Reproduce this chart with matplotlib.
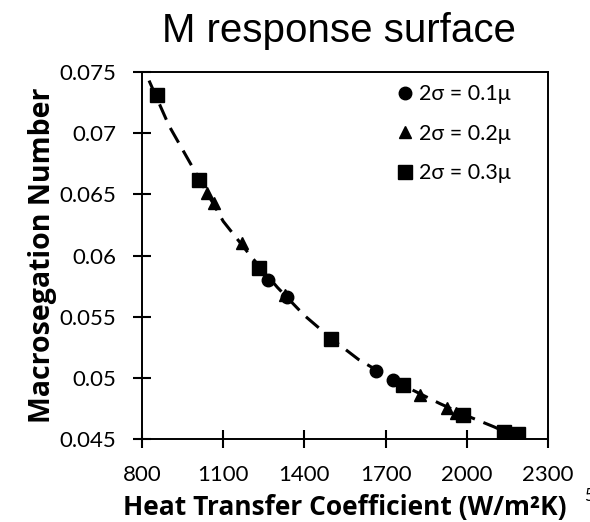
import matplotlib
matplotlib.use("Agg")
import matplotlib.pyplot as plt

# data
sq_x = [855, 1011, 1232, 1498, 1765, 1986, 2138, 2189]
sq_y = [0.0731, 0.0662, 0.0590, 0.0532, 0.0494, 0.0470, 0.0456, 0.0454]

ci_x = [1266, 1336, 1665, 1728]
ci_y = [0.0580, 0.0566, 0.0506, 0.0498]

tri_x = [1040, 1066, 1170, 1330, 1827, 1927, 1960]
tri_y = [0.0651, 0.0643, 0.0610, 0.0568, 0.0486, 0.0475, 0.0471]

# dashed trend line, read point by point
fit_x = [826, 900, 1000, 1100, 1200, 1300, 1400, 1500, 1600, 1700, 1800, 1900, 2000, 2100, 2140]
fit_y = [0.0743, 0.0706, 0.0667, 0.0628, 0.0600, 0.0574, 0.0551, 0.0532, 0.0515,
         0.0502, 0.0490, 0.0479, 0.0469, 0.0460, 0.0456]

x_ticks = [800, 1100, 1400, 1700, 2000, 2300]
y_ticks = [0.045, 0.05, 0.055, 0.06, 0.065, 0.07, 0.075]
y_labels = ["0.045", "0.05", "0.055", "0.06", "0.065", "0.07", "0.075"]

tick_font = "Lato"

fig = plt.figure(figsize=(5.9, 5.22), dpi=100)
ax = fig.add_axes([0.2407, 0.159, 0.6881, 0.703])

ax.plot(fit_x, fit_y, color="black", lw=2.2, ls=(0, (5.5, 3)), zorder=2)
ax.plot(ci_x, ci_y, "o", color="black", ms=9, ls="none", label="2σ = 0.1μ", zorder=3)
ax.plot(tri_x, tri_y, "^", color="black", ms=9, ls="none", label="2σ = 0.2μ", zorder=3)
ax.plot(sq_x, sq_y, "s", color="black", ms=9.5, ls="none", label="2σ = 0.3μ", zorder=3)

ax.set_xlim(800, 2300)
ax.set_ylim(0.045, 0.075)
ax.set_xticks(x_ticks)
ax.set_xticklabels([str(v) for v in x_ticks], fontsize=16, family=tick_font)
ax.set_yticks(y_ticks)
ax.set_yticklabels(y_labels, fontsize=16, family=tick_font)
ax.tick_params(direction="inout", length=13, width=1.5, color="black")
ax.tick_params(axis="x", pad=12)
ax.tick_params(axis="y", pad=12)
for s in ax.spines.values():
    s.set_linewidth(1.4)

ax.set_xlabel("Heat Transfer Coefficient (W/m²K)", fontsize=19, fontweight="bold",
              family="Open Sans", labelpad=7)
ax.set_ylabel("Macrosegation Number", fontsize=20.5, fontweight="bold",
              family="Open Sans", labelpad=2)

fig.text(0.575, 0.94, "M response surface", fontsize=29, family="Liberation Sans",
         ha="center", va="center")

ax.legend(loc="upper left", frameon=False, prop={"family": tick_font, "size": 15.5},
          handletextpad=0.15, handlelength=1.0, labelspacing=0.9,
          bbox_to_anchor=(0.6, 0.99), borderaxespad=0)

fig.text(0.99, 0.05, "5", fontsize=12, family=tick_font, ha="left", va="center")

fig.savefig("out.png", dpi=100)
